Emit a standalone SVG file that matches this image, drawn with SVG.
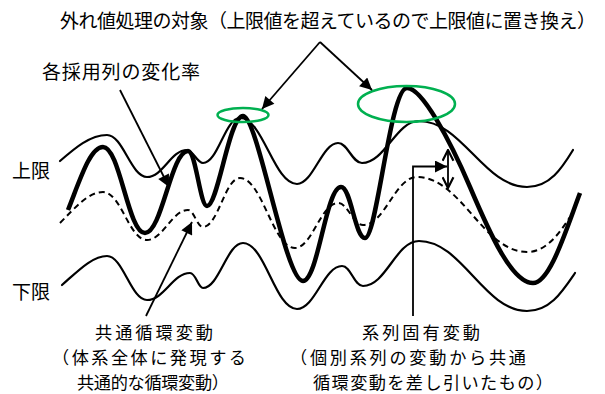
<svg xmlns="http://www.w3.org/2000/svg" width="605" height="394" viewBox="0 0 605 394">
<style>
text{font-family:"Noto Sans CJK JP","Noto Sans CJK SC",sans-serif;font-size:19px;fill:#000}
.note{font-size:17.2px}
.thin{fill:none;stroke:#000;stroke-width:2.2;stroke-linejoin:round;stroke-linecap:round}
.thick{fill:none;stroke:#000;stroke-width:4.5;stroke-linejoin:round}
.dash{fill:none;stroke:#000;stroke-width:2;stroke-dasharray:6 4}
.ell{fill:none;stroke:#00B050;stroke-width:2.5}
.arr{fill:none;stroke:#000;stroke-width:1.8}
</style>
<defs>
<marker id="ah" viewBox="0 0 10 10" refX="10" refY="5" markerWidth="15" markerHeight="12" markerUnits="userSpaceOnUse" orient="auto">
<path d="M0,0L10,5L0,10z" fill="#000"/>
</marker>
<marker id="av" viewBox="0 0 12 12" refX="11" refY="6" markerWidth="13" markerHeight="13" markerUnits="userSpaceOnUse" orient="auto-start-reverse">
<path d="M1,1L11,6L1,11" fill="none" stroke="#000" stroke-width="2"/>
</marker>
</defs>
<g id="curves">
<path id="upper" class="thin" d="M60,161 C75,148 90,135 107,135 C123,135 131,177 147,177 C163,177 171,150 187,150 C193,150 197,163 203,163 C218,163 225,118 240,118 C263,118 274,184 297,184 C313,184 322,143 338,143 C348,143 352,163 362,163 C385,163 396,121 419,121 C462,121 484,187 527,187 C550,187 562,168 573,150"/>
<path id="common" class="dash" d="M60,223 C75,208 88,192 103,192 C121,192 129,240 147,240 C163,240 172,210 188,210 C194,210 197,227 203,227 C218,227 225,178 240,178 C262,178 273,248 295,248 C312,248 321,203 338,203 C348,203 353,225 363,225 C385,225 395,177 417,177 C461,177 483,252 527,252 C547,252 560,232 570,217"/>
<path id="lower" class="thin" d="M62,285 C77,272 92,256 107,256 C123,256 131,300 147,300 C164,300 173,273 190,273 C196,273 198,288 203,288 C219,288 227,243 243,243 C265,243 275,309 297,309 C315,309 324,266 342,266 C351,266 354,286 363,286 C386,286 396,241 419,241 C462,241 484,311 527,311 C550,311 562,292 575,273"/>
<path id="series" class="thick" d="M68,210 C80,180 90,147 103,147 C120,147 128,233 145,233 C162,233 171,151 188,151 C196,151 200,206 207,206 C218,206 229,116 243,116 C258,116 285,281 303,281 C318,281 326,187 341,187 C351,187 355,238 365,238 C377,238 390,88 407,88 C422,88 450,140 470,187 C490,234 512,283 533,283 C550,283 566,230 580,193"/>
</g>
<g id="outliers">
<ellipse class="ell" cx="243" cy="115" rx="25.5" ry="7"/>
<ellipse class="ell" cx="406.5" cy="104" rx="48.5" ry="18"/>
</g>
<g id="connectors">
<line class="arr" x1="320" y1="42" x2="262" y2="109" marker-end="url(#ah)"/>
<line class="arr" x1="320" y1="42" x2="372" y2="90" marker-end="url(#ah)"/>
<line class="arr" x1="120" y1="90" x2="169" y2="187" marker-end="url(#ah)"/>
<line class="arr" x1="146" y1="316" x2="192" y2="222" marker-end="url(#ah)"/>
<polyline class="arr" points="413,316 413,166.5 447,166.5" marker-end="url(#ah)"/>
<line class="arr" x1="448" y1="150" x2="448" y2="188" marker-start="url(#av)" marker-end="url(#av)"/>
</g>
<g id="title"><text x="60" y="28" textLength="536">外れ値処理の対象（上限値を超えているので上限値に置き換え）</text></g>
<g id="label-series"><text x="42" y="79" textLength="158">各採用列の変化率</text></g>
<g id="label-upper"><text x="12" y="178">上限</text></g>
<g id="label-lower"><text x="12" y="299">下限</text></g>
<g id="label-common">
<text class="note" x="95" y="339" textLength="118">共通循環変動</text>
<text class="note" x="52" y="364" textLength="194">（体系全体に発現する</text>
<text class="note" x="77" y="389" textLength="152">共通的な循環変動）</text>
</g>
<g id="label-specific">
<text class="note" x="362" y="339" textLength="118">系列固有変動</text>
<text class="note" x="290" y="364" textLength="236">（個別系列の変動から共通</text>
<text class="note" x="313" y="389" textLength="240">循環変動を差し引いたもの）</text>
</g>
</svg>
